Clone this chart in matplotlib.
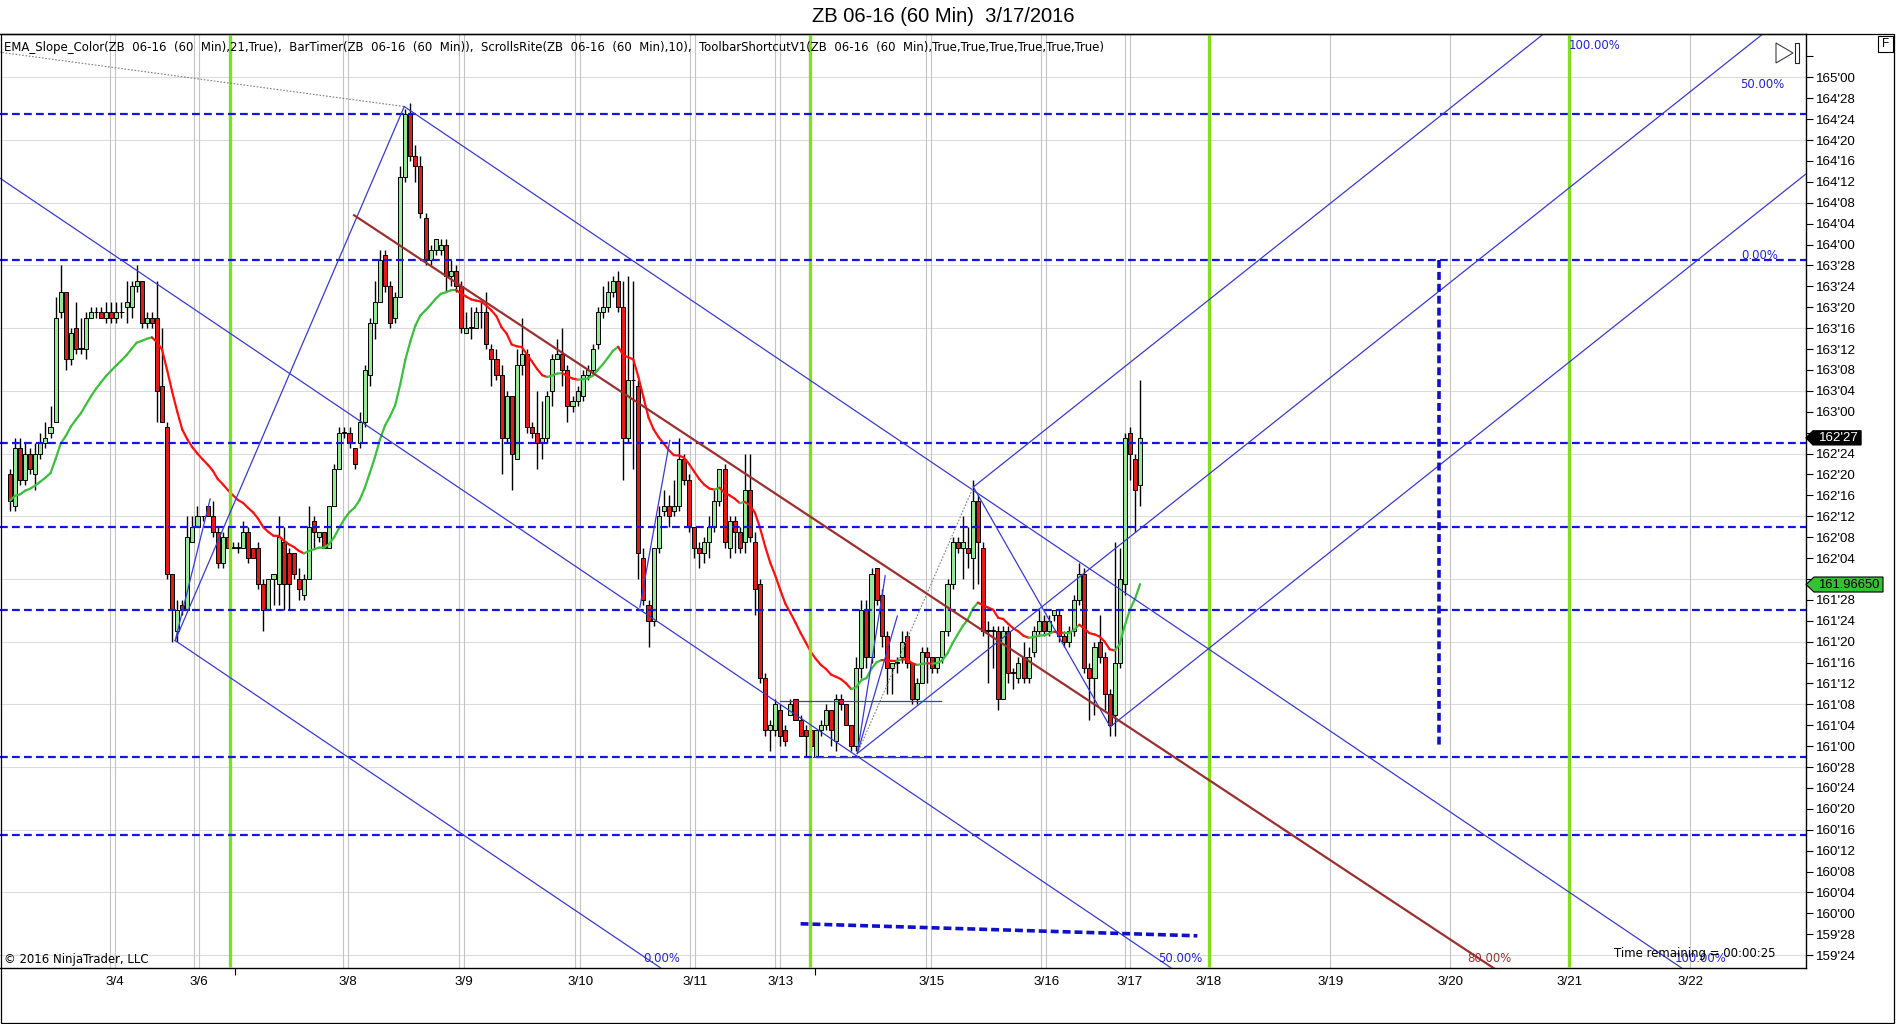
import numpy as np
import matplotlib
matplotlib.use("Agg")
import matplotlib.pyplot as plt
from matplotlib import font_manager
from matplotlib.font_manager import FontProperties
from matplotlib.patches import Polygon, Rectangle
from matplotlib.collections import LineCollection
from matplotlib.transforms import blended_transform_factory

# ZB 06-16 60 min bars, prices in 32nds above 159'00
opens = [116, 110, 121, 115, 120, 116, 120, 122, 124, 126, 147, 151, 138, 144, 140, 140, 146, 147, 147, 146,
         147, 146, 147, 148, 148, 152, 153, 145, 146, 146, 133, 125, 97, 86, 91, 90, 103, 106, 108, 110,
         108, 105, 99, 104, 102, 102, 102, 105, 102, 102, 95, 90, 96, 95, 103, 101, 101, 96, 93, 96,
         107, 104, 105, 102, 110, 117, 124, 124, 121, 122, 126, 135, 145, 149, 158, 152, 146, 150, 173, 185,
         177, 175, 165, 157, 159, 159, 160, 154, 155, 152, 143, 144, 144, 147, 147, 140, 138, 135, 123, 131,
         119, 137, 139, 125, 124, 122, 123, 132, 138, 139, 136, 129, 130, 131, 135, 136, 141, 147, 148, 151,
         153, 148, 123, 134, 133, 100, 91, 88, 102, 109, 110, 109, 110, 119, 115, 106, 102, 101, 103, 106,
         111, 117, 102, 107, 105, 103, 113, 103, 95, 77, 67, 67, 71, 67, 70, 73, 69, 67, 67, 62,
         67, 68, 71, 65, 73, 72, 68, 64, 79, 90, 81, 98, 93, 85, 79, 80, 81, 85, 80, 73,
         76, 82, 81, 79, 81, 86, 95, 103, 102, 102, 100, 111, 102, 86, 86, 86, 73, 86, 78, 77,
         81, 77, 82, 86, 88, 86, 89, 89, 85, 84, 86, 92, 97, 79, 77, 84, 81, 74, 70, 80,
         95, 124, 119, 114]
highs = [117, 123, 123, 122, 121, 122, 124, 126, 129, 150, 156, 151, 144, 149, 146, 147, 148, 148, 148, 149,
         149, 149, 149, 153, 153, 156, 153, 147, 147, 153, 144, 126, 97, 92, 92, 108, 108, 110, 108, 110,
         111, 106, 105, 106, 103, 103, 107, 106, 102, 103, 96, 96, 97, 108, 106, 102, 101, 98, 97, 110,
         108, 105, 105, 110, 118, 125, 125, 125, 121, 128, 137, 146, 153, 159, 159, 153, 151, 175, 186, 187,
         179, 177, 166, 160, 161, 161, 161, 157, 156, 153, 147, 148, 148, 149, 151, 141, 140, 137, 132, 131,
         140, 146, 140, 126, 132, 130, 132, 139, 142, 144, 137, 131, 133, 136, 137, 141, 148, 152, 153, 154,
         155, 153, 154, 153, 134, 102, 92, 102, 110, 113, 112, 115, 123, 120, 116, 106, 103, 104, 108, 113,
         117, 118, 108, 108, 106, 120, 120, 105, 96, 78, 69, 73, 72, 68, 73, 73, 70, 68, 67, 67,
         69, 72, 71, 74, 74, 72, 68, 81, 92, 92, 98, 98, 94, 86, 80, 81, 86, 86, 80, 77,
         83, 83, 81, 81, 86, 96, 104, 104, 108, 106, 115, 112, 103, 88, 87, 87, 87, 87, 79, 81,
         84, 83, 87, 90, 89, 89, 90, 90, 86, 87, 93, 99, 98, 80, 84, 89, 82, 75, 103, 102,
         124, 125, 120, 134]
lows = [109, 109, 114, 114, 116, 113, 119, 121, 123, 126, 146, 136, 137, 139, 139, 138, 146, 146, 146, 145,
        145, 145, 146, 145, 146, 151, 144, 144, 144, 126, 126, 96, 84, 84, 89, 90, 103, 106, 107, 108,
        104, 98, 98, 102, 102, 101, 102, 99, 100, 94, 86, 90, 91, 91, 90, 90, 96, 92, 92, 96,
        102, 103, 102, 102, 110, 117, 123, 121, 117, 121, 125, 133, 142, 149, 151, 144, 145, 150, 172, 176,
        172, 165, 156, 156, 158, 158, 151, 152, 151, 143, 143, 142, 144, 144, 140, 133, 134, 116, 122, 113,
        119, 135, 124, 123, 117, 119, 122, 129, 138, 133, 126, 128, 129, 130, 134, 135, 140, 146, 147, 150,
        147, 115, 122, 117, 96, 91, 83, 87, 101, 108, 106, 108, 109, 114, 105, 100, 98, 99, 100, 105,
        110, 102, 100, 101, 101, 101, 103, 89, 76, 66, 63, 66, 64, 64, 70, 69, 66, 62, 63, 62,
        66, 67, 64, 63, 71, 68, 63, 63, 77, 79, 80, 91, 83, 74, 74, 78, 80, 79, 72, 72,
        76, 76, 78, 78, 80, 85, 94, 101, 96, 98, 94, 95, 85, 76, 79, 71, 73, 76, 75, 76,
        76, 76, 81, 85, 85, 85, 88, 84, 83, 83, 85, 91, 78, 69, 70, 80, 71, 66, 66, 79,
        93, 115, 105, 110]
closes = [111, 121, 115, 120, 117, 120, 122, 123, 125, 146, 151, 138, 143, 140, 140, 146, 147, 147, 146, 147,
          146, 147, 147, 149, 152, 153, 145, 146, 145, 132, 126, 97, 90, 90, 90, 104, 106, 108, 108, 108,
          105, 99, 104, 102, 102, 102, 105, 100, 100, 95, 90, 96, 97, 104, 95, 95, 97, 94, 96, 106,
          105, 105, 102, 110, 117, 124, 124, 122, 118, 126, 136, 145, 149, 157, 152, 145, 150, 173, 185, 177,
          175, 166, 157, 159, 161, 160, 154, 155, 152, 144, 144, 144, 147, 147, 141, 138, 135, 123, 131, 120,
          137, 139, 125, 124, 122, 123, 131, 138, 139, 136, 129, 130, 132, 135, 136, 140, 147, 148, 151, 153,
          148, 123, 134, 134, 101, 92, 88, 102, 108, 110, 108, 110, 119, 115, 106, 102, 101, 103, 106, 111,
          117, 103, 107, 105, 102, 113, 104, 94, 77, 67, 68, 72, 66, 65, 72, 69, 66, 66, 64, 67,
          68, 71, 67, 73, 72, 68, 64, 79, 90, 81, 97, 92, 85, 79, 80, 80, 84, 80, 73, 76,
          82, 81, 79, 81, 86, 95, 103, 102, 103, 101, 111, 103, 86, 86, 86, 73, 86, 78, 78, 80,
          77, 81, 86, 88, 86, 88, 90, 85, 84, 86, 92, 97, 79, 77, 83, 81, 74, 68, 80, 96,
          123, 120, 113, 123]

date_labels = ['3/4', '3/6', '3/8', '3/9', '3/10', '3/11', '3/13', '3/15', '3/16', '3/17',
               '3/18', '3/19', '3/20', '3/21', '3/22']
date_bars = [20.7, 37.3, 66.7, 89.6, 112.5, 135.2, 152.0, 181.8, 204.5, 221.0,
             236.6, 260.5, 284.2, 307.7, 331.6]
n_hist_dates = 10
session_bars = [43.4, 157.9, 236.6, 307.7]
level_ticks = [185, 157, 122, 106, 90, 62, 47]

# pitchforks: anchor1, anchor2, anchor3 as (bar, 32nds)
fork_down = [(-48.0, 202.8), (77.8, 186.4), (32.6, 84.2)]
fork_up = [(167.2, 62.6), (190.1, 113.6), (217.1, 67.7)]
brown_line = [(67.9, 165.6), (236.6, 57.5)]
fan_lines = [[(32.6, 84.2), (39.5, 111.3)],
             [(124.3, 90.6), (130.2, 122.5)],
             [(167.2, 62.6), (172.7, 96.6)],
             [(167.2, 62.6), (175.1, 88.9)],
             [(152.0, 72.6), (183.7, 72.6)],
             [(158.4, 62.0), (181.0, 62.0)]]
thick_vert = [(282.0, 157.0), (282.0, 64.0)]
thick_slope = [(156.0, 30.0), (234.3, 27.7)]

last_price = "162'27"
last_ticks = 123
ema_label = "161.96650"
ema_value = 161.96650
hidden_labels = ["162'28", "162'00"]


def px(t):
    return 159 + np.asarray(t, dtype=float) / 32.0


def fmt32(p):
    whole = int(np.floor(p + 1e-9))
    frac = int(round((p - whole) * 32))
    return f"{whole}'{frac:02d}"


# look for a narrow face for the NinjaTrader style texts
narrow_file = None
for f in font_manager.fontManager.ttflist:
    base = f.fname.split('/')[-1]
    if base in ('LiberationSansNarrow-Regular.ttf', 'DejaVuSansCondensed.ttf', 'Roboto_Condensed-Regular.ttf',
                'RobotoCondensed-Regular.ttf', 'OpenSans_Condensed-Regular.ttf'):
        narrow_file = f.fname
        break
if narrow_file:
    narrow_fp = FontProperties(fname=narrow_file)
else:
    narrow_fp = FontProperties(family='Liberation Sans')

sans = 'Liberation Sans'
plt.rcParams['font.family'] = [sans, 'DejaVu Sans']

W, H = 1896, 1024
fig = plt.figure(figsize=(W / 100, H / 100), dpi=100)
fig.patch.set_facecolor('white')
ax = fig.add_axes([0, 1 - 968 / H, 1806 / W, 934 / H])
ax.set_xlim(-1.97, 354.4)
ax.set_ylim(159.673, 165.259)

# grid
for g in np.arange(159.75, 165.2, 0.375):
    ax.axhline(g, color='#dcdcdc', lw=0.8, zorder=0.5)
for k, b in enumerate(date_bars):
    ax.axvline(b, color='#c4c4c4', lw=0.8, zorder=0.5)
    if k < n_hist_dates:
        ax.axvline(b - 1, color='#c4c4c4', lw=0.8, zorder=0.5)

# candles
o, h, l, c = px(opens), px(highs), px(lows), px(closes)
x = np.arange(len(c))
up = c >= o
ax.vlines(x, l, h, color='black', lw=1.0, zorder=3)
bot = np.minimum(o, c)
bh = np.maximum(np.abs(c - o), 0.004)
ax.bar(x[up], bh[up], bottom=bot[up], width=0.8, color='#98e698', edgecolor='black', linewidth=0.7, zorder=4)
ax.bar(x[~up], bh[~up], bottom=bot[~up], width=0.8, color='#e41a1a', edgecolor='black', linewidth=0.7, zorder=4)

# EMA 21 slope colored
alpha = 2.0 / 22.0
ema = np.zeros(len(c))
ema[0] = c[0]
for i in range(1, len(c)):
    ema[i] = alpha * c[i] + (1 - alpha) * ema[i - 1]
segs = [[(x[i - 1], ema[i - 1]), (x[i], ema[i])] for i in range(1, len(c))]
cols = ['#3cbf3c' if ema[i] >= ema[i - 1] else '#ff1010' for i in range(1, len(c))]
ax.add_collection(LineCollection(segs, colors=cols, linewidths=1.6, zorder=5, capstyle='round'))

# session lines
for b in session_bars:
    ax.axvline(b, color='#80e020', lw=2.4, zorder=6)

# horizontal levels
for t in level_ticks:
    ax.axhline(px(t), color='#1414e6', lw=1.6, ls=(0, (3.5, 1.9)), zorder=7)

blue = '#3a3acf'
far = 420.0


def draw_fork(a1, a2, a3):
    m = ((a2[0] + a3[0]) / 2, (a2[1] + a3[1]) / 2)
    s = (m[1] - a1[1]) / (m[0] - a1[0])
    for a in (a1, a2, a3):
        ax.plot([a[0], far], px([a[1], a[1] + s * (far - a[0])]), color=blue, lw=0.9, zorder=8)
    ax.plot([a2[0], a3[0]], px([a2[1], a3[1]]), color=blue, lw=0.9, zorder=8)
    ax.plot([a1[0], a2[0]], px([a1[1], a2[1]]), color='#808080', lw=0.8, ls=(0, (1.5, 1.5)), zorder=8)


draw_fork(*fork_down)
draw_fork(*fork_up)
for seg in fan_lines:
    ax.plot([seg[0][0], seg[1][0]], px([seg[0][1], seg[1][1]]), color=blue, lw=0.9, zorder=8)

bs = (brown_line[1][1] - brown_line[0][1]) / (brown_line[1][0] - brown_line[0][0])
ax.plot([brown_line[0][0], far], px([brown_line[0][1], brown_line[0][1] + bs * (far - brown_line[0][0])]),
        color='#9a3030', lw=1.6, zorder=8)

ax.plot([p[0] for p in thick_vert], px([p[1] for p in thick_vert]), color='#1010c8', lw=2.6,
        ls=(0, (2.2, 1.1)), zorder=8)
ax.plot([p[0] for p in thick_slope], px([p[1] for p in thick_slope]), color='#1010c8', lw=2.6,
        ls=(0, (2.2, 1.1)), zorder=8)

# top-left indicator text, sized to its width in the reference
renderer = fig.canvas.get_renderer()
ind_text = ("EMA_Slope_Color(ZB  06-16  (60  Min),21,True),  BarTimer(ZB  06-16  (60  Min)),  "
            "ScrollsRite(ZB  06-16  (60  Min),10),  ToolbarShortcutV1(ZB  06-16  (60  Min),True,True,True,True,True,True)")
t_ind = ax.text(0.002, 1 - 13 / 934, ind_text, transform=ax.transAxes, fontproperties=narrow_fp,
                ha='left', va='center', zorder=10)
t_ind.set_fontsize(10)
wpx = t_ind.get_window_extent(renderer).width
nsize = 10 * 1100 / wpx
t_ind.set_fontsize(nsize)

ax.text(0.002, 9 / 934, '\u00a9 2016 NinjaTrader, LLC', transform=ax.transAxes, fontproperties=narrow_fp,
        fontsize=nsize, ha='left', va='center', zorder=10)
ax.text(1775 / 1806, 14 / 934, 'Time remaining = 00:00:25', transform=ax.transAxes, fontproperties=narrow_fp,
        fontsize=nsize, ha='right', va='center', zorder=10)

# fork labels
def flabel(bx, t, s, col):
    ax.text(bx, px(t), s, color=col, fontproperties=narrow_fp, fontsize=nsize, ha='center', va='center', zorder=9)


flabel(128.5, 23.3, '0.00%', '#2424d0')
flabel(230.9, 23.3, '50.00%', '#2424d0')
flabel(333.5, 23.3, '100.00%', '#2424d0')
flabel(292.0, 23.3, '80.00%', '#9a3030')
flabel(312.7, 198.0, '100.00%', '#2424d0')
flabel(345.7, 190.6, '50.00%', '#2424d0')
flabel(345.2, 157.9, '0.00%', '#2424d0')

# axes styling
ax.yaxis.tick_right()
yt = np.arange(159.75, 165.13, 0.125)
ax.set_yticks(yt)
ax.set_yticklabels([fmt32(v) if v < 165.1 and fmt32(v) not in hidden_labels else '' for v in yt],
                   fontsize=9.6, family=sans)
ax.tick_params(axis='y', direction='out', length=5, width=0.8, pad=2, colors='black')
ax.set_xticks(date_bars)
ax.set_xticklabels(date_labels, fontsize=9.6, family=sans)
ax.tick_params(axis='x', length=0, pad=6)
ax.set_xticks([b + 1 for b in session_bars[:2]], minor=True)
ax.tick_params(axis='x', which='minor', length=5, width=0.8, direction='out')
for sp in ax.spines.values():
    sp.set_linewidth(1.0)
    sp.set_color('black')
ax.spines['left'].set_visible(False)

# price markers on the axis
tr = blended_transform_factory(ax.transAxes, ax.transData)
pp = 1.0 / 167.2
p0 = px(last_ticks)
ax.add_patch(Polygon([(1.0, p0), (1 + 7 / 1806, p0 + 7 * pp), (1 + 55 / 1806, p0 + 7 * pp),
                      (1 + 55 / 1806, p0 - 7 * pp), (1 + 7 / 1806, p0 - 7 * pp)],
                     closed=True, transform=tr, facecolor='black', edgecolor='black', clip_on=False, zorder=11))
ax.text(1 + 33 / 1806, p0, last_price, transform=tr, color='white', fontsize=9.6, ha='center', va='center',
        clip_on=False, zorder=12)
ax.add_patch(Polygon([(1.0, ema_value), (1 + 8 / 1806, ema_value + 7.5 * pp), (1 + 77 / 1806, ema_value + 7.5 * pp),
                      (1 + 77 / 1806, ema_value - 7.5 * pp), (1 + 8 / 1806, ema_value - 7.5 * pp)],
                     closed=True, transform=tr, facecolor='#34c234', edgecolor='black', lw=0.8, clip_on=False,
                     zorder=11))
ax.text(1 + 43 / 1806, ema_value, ema_label, transform=tr, color='black', fontsize=9.4, ha='center', va='center',
        clip_on=False, zorder=12)

# title and frame
fig.text(943 / W, 1 - 16 / H, 'ZB 06-16 (60 Min)  3/17/2016', fontsize=14.5, ha='center', va='center', family=sans)
fig.add_artist(Rectangle((0.5 / W, 1.5 / H), 1893 / W, (1024 - 34 - 1.5) / H, transform=fig.transFigure,
                         fill=False, edgecolor='black', lw=0.9))
fig.add_artist(Rectangle((1878 / W, 1 - 52 / H), 15 / W, 16 / H, transform=fig.transFigure,
                         fill=False, edgecolor='black', lw=0.8))
fig.text(1885.5 / W, 1 - 44 / H, 'F', fontsize=8.5, ha='center', va='center', family=sans)
fig.add_artist(Polygon([(1776 / W, 1 - 43 / H), (1793 / W, 1 - 53 / H), (1776 / W, 1 - 63 / H)],
                       closed=True, transform=fig.transFigure, fill=False, edgecolor='#404040', lw=0.8))
fig.add_artist(Rectangle((1795 / W, 1 - 63 / H), 4 / W, 20 / H, transform=fig.transFigure,
                         fill=False, edgecolor='#202020', lw=0.8))

fig.savefig('out.png', dpi=100)
